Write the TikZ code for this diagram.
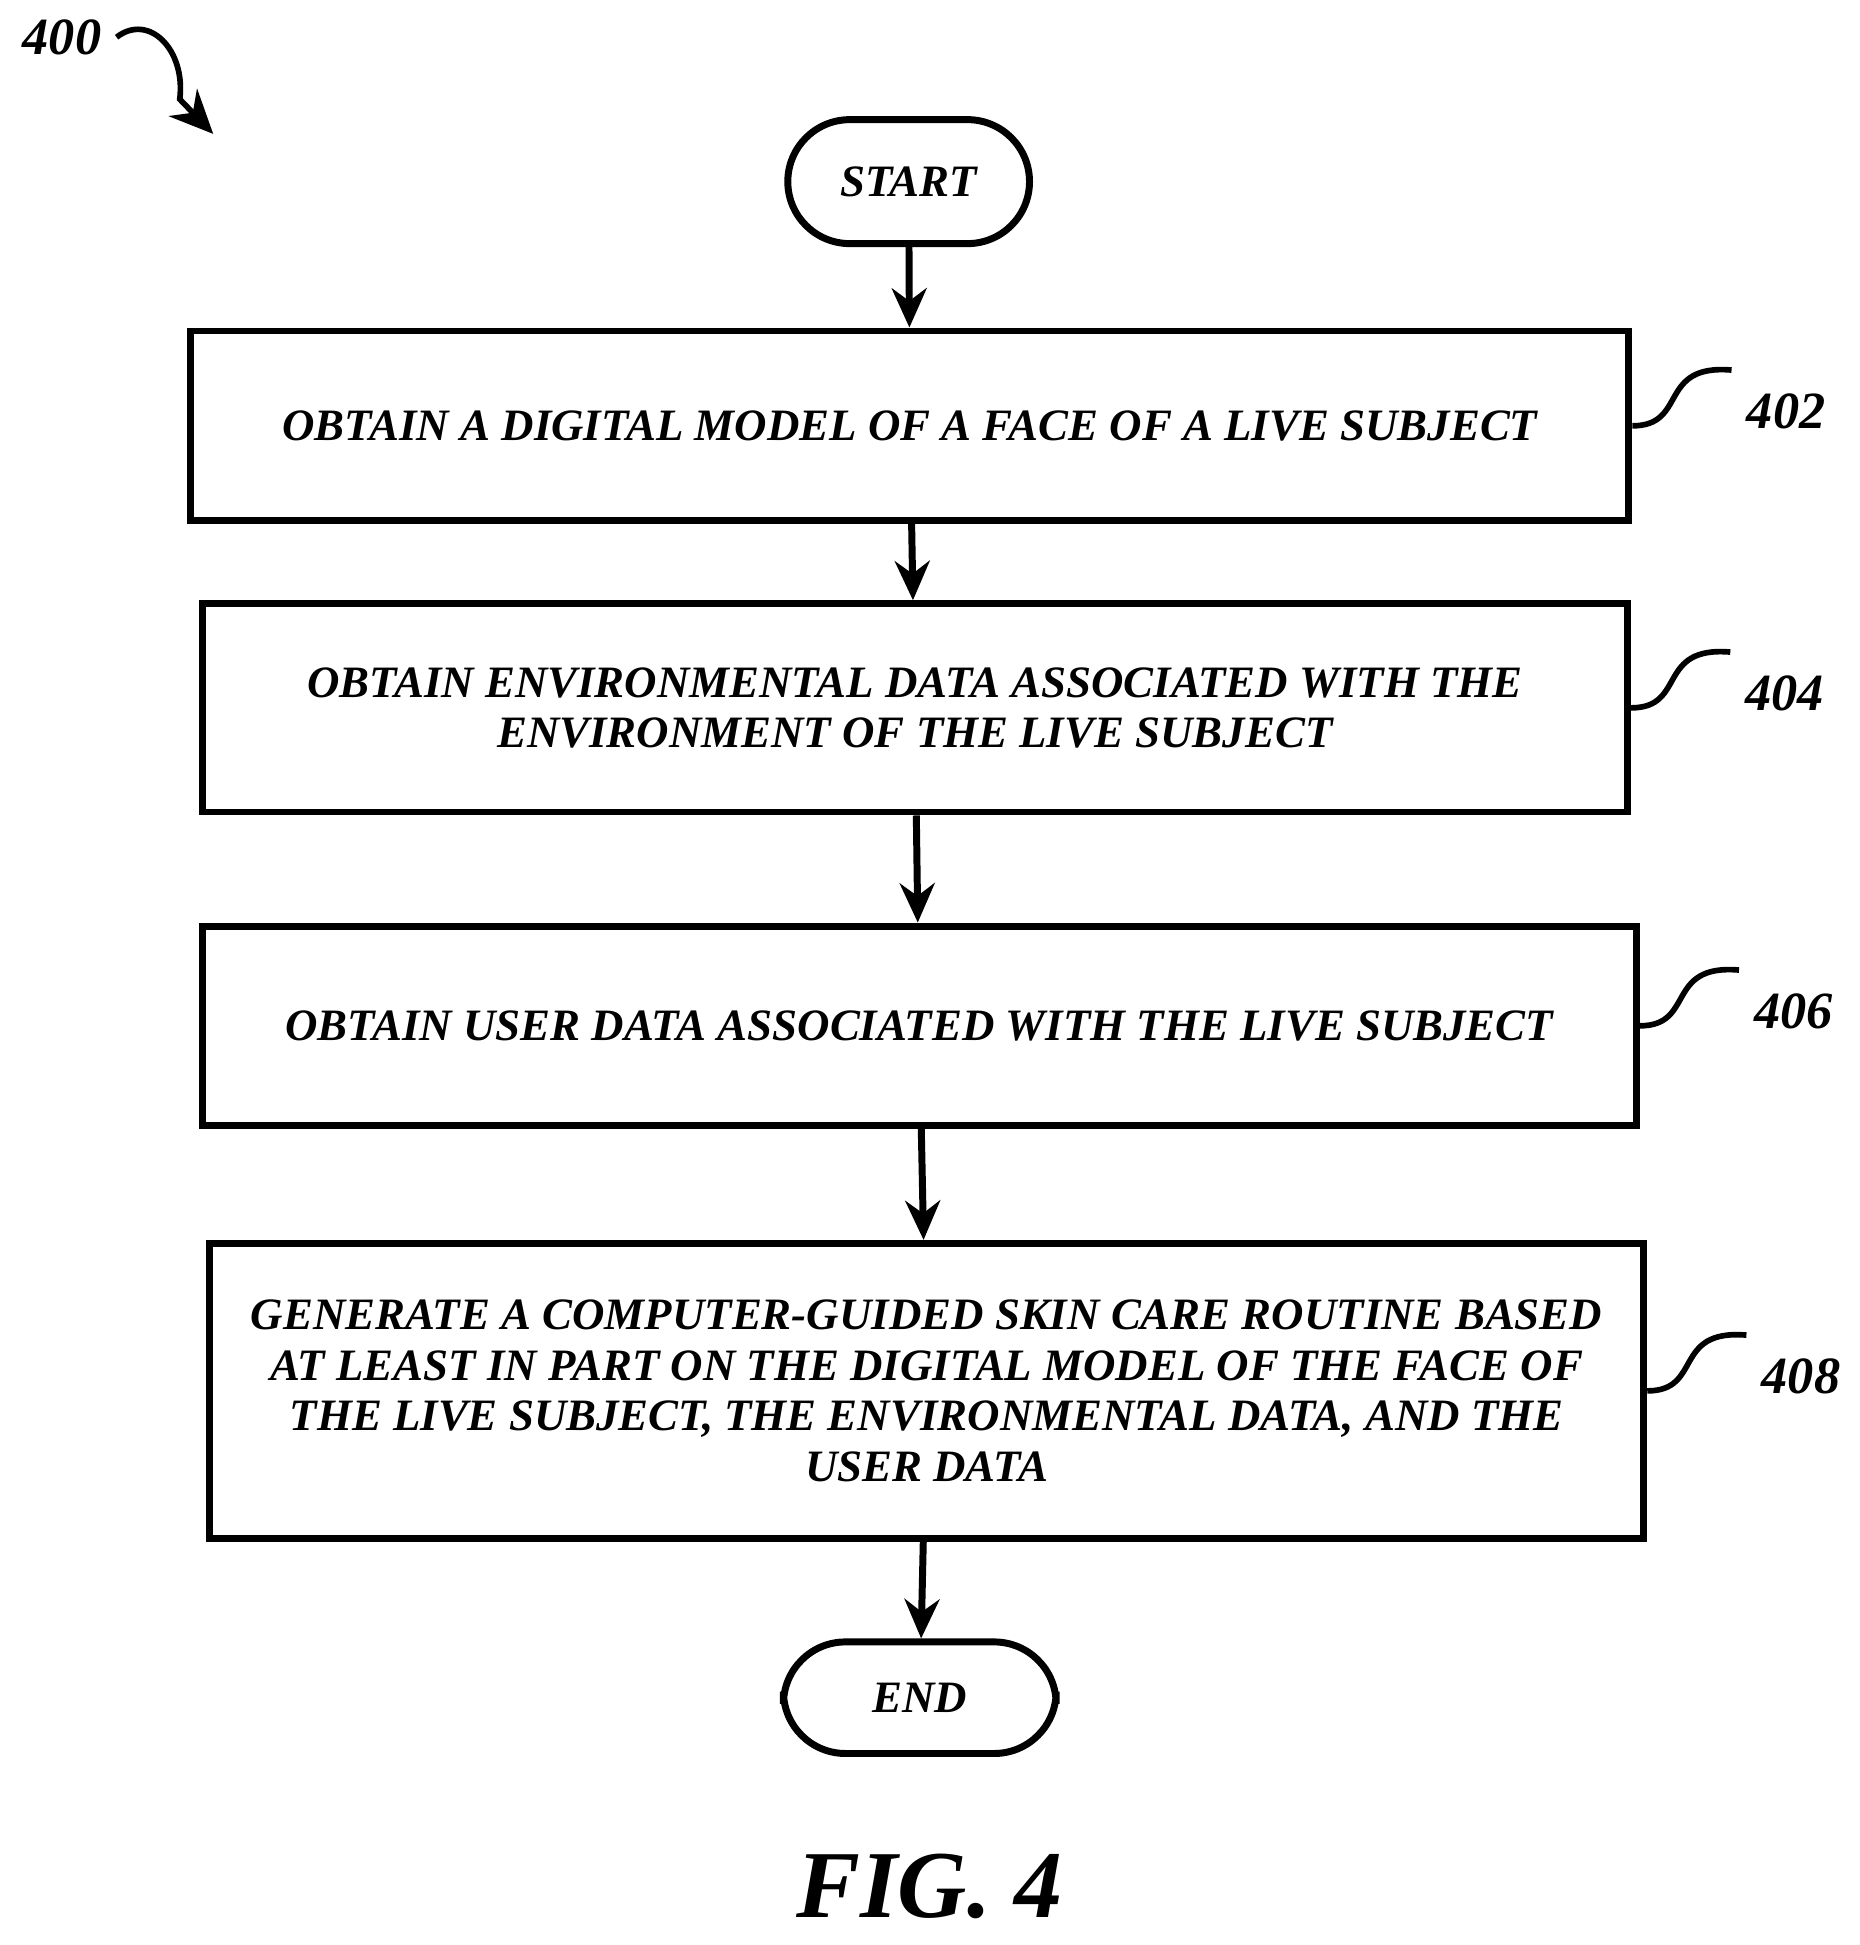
\documentclass[tikz,border=0pt]{standalone}
\usepackage{fontspec}
\setmainfont{Liberation Serif}
\usetikzlibrary{arrows.meta, positioning, calc}
\tikzset{
  box/.style  = {draw, line width=1.6pt, inner sep=0pt, align=center, font=\fontsize{10.3}{11.6}\selectfont\bfseries\itshape},
  term/.style = {box, rounded corners=0.5cm},
  flow/.style = {-{Stealth[length=9pt,width=8pt]}, line width=1.6pt},
  tag/.style  = {font=\fontsize{12}{13}\selectfont\bfseries\itshape}
}
\begin{document}
\begin{tikzpicture}
  \useasboundingbox (0,0) rectangle (15,-15.69);
  % terminals and steps
  \node[term, minimum width=1.95cm, minimum height=1.0cm] (start) at (7.33,-1.465) {START};
  \node[box, minimum width=11.6cm, minimum height=1.53cm] (s402) at (7.34,-3.435) {OBTAIN A DIGITAL MODEL OF A FACE OF A LIVE SUBJECT};
  \node[box, minimum width=11.5cm, minimum height=1.68cm] (s404) at (7.38,-5.71) {OBTAIN ENVIRONMENTAL DATA ASSOCIATED WITH THE\\ENVIRONMENT OF THE LIVE SUBJECT};
  \node[box, minimum width=11.57cm, minimum height=1.61cm] (s406) at (7.415,-8.275) {OBTAIN USER DATA ASSOCIATED WITH THE LIVE SUBJECT};
  \node[box, minimum width=11.57cm, minimum height=2.38cm] (s408) at (7.475,-11.22) {GENERATE A COMPUTER-GUIDED SKIN CARE ROUTINE BASED\\AT LEAST IN PART ON THE DIGITAL MODEL OF THE FACE OF\\THE LIVE SUBJECT, THE ENVIRONMENTAL DATA, AND THE\\USER DATA};
  \node[term, minimum width=2.2cm, minimum height=0.9cm] (end) at (7.42,-13.695) {END};

  \draw[flow] (start) -- (s402);
  \draw[flow] (s402) -- (s404);
  \draw[flow] (s404) -- (s406);
  \draw[flow] (s406) -- (s408);
  \draw[flow] (s408) -- (end);

  % reference numerals
  \foreach \s/\n in {s402/402, s404/404, s406/406, s408/408}{
    \node[tag, right=0.8cm of \s.east, yshift=0.12cm] (t\n) {\n};
    \draw[line width=1.3pt] (\s.east) .. controls ($(\s.east)+(0.45,0)$) and ($(\s.east)+(0.2,0.5)$) .. ($(\s.east)+(0.8,0.45)$);
  }

  \node[tag] (t400) at (0.5,-0.3) {400};
  \coordinate (p400) at (1.72,-1.08);
  \draw[line width=1.3pt, -{Stealth[length=10pt,width=9pt]}] (t400.east) .. controls (1.2,-0.1) and (1.5,-0.4) .. (1.45,-0.8) -- (p400);

  \node[font=\fontsize{22}{24}\selectfont\bfseries\itshape] (fig) at (7.5,-15.22) {FIG. 4};
\end{tikzpicture}
\end{document}
